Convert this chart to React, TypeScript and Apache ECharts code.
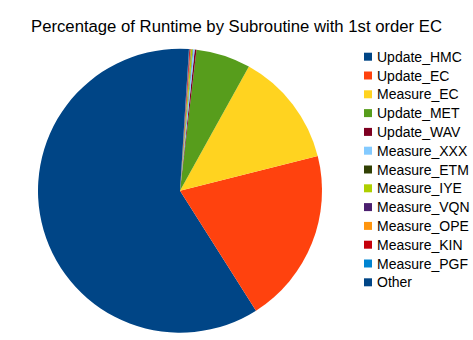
import React, { useEffect, useRef } from "react";
import * as echarts from "echarts";

const categories = [
  "Update_HMC",
  "Update_EC",
  "Measure_EC",
  "Update_MET",
  "Update_WAV",
  "Measure_XXX",
  "Measure_ETM",
  "Measure_IYE",
  "Measure_VQN",
  "Measure_OPE",
  "Measure_KIN",
  "Measure_PGF",
  "Other",
];
const values = [58.9, 19.9, 13.0, 6.2, 0.2, 0.2, 0.05, 0.15, 0.05, 0.05, 0.1, 0.05, 1.0];
const colors = [
  "#004586",
  "#ff420e",
  "#ffd320",
  "#579d1c",
  "#7e0021",
  "#83caff",
  "#314004",
  "#aecf00",
  "#4b1f6f",
  "#ff950e",
  "#c5000b",
  "#0084d1",
  "#004586",
];
const title = "Percentage of Runtime by Subroutine with 1st order EC";

export default function App() {
  const ref = useRef<HTMLDivElement>(null);
  useEffect(() => {
    document.body.style.margin = "0";
    if (!ref.current) return;
    const chart = echarts.init(ref.current, undefined, { renderer: "svg" });
    chart.setOption({
      animation: false,
      backgroundColor: "#ffffff",
      color: colors,
      title: {
        text: title,
        left: "center",
        top: 13,
        textStyle: {
          fontFamily: "Liberation Sans",
          fontSize: 16.7,
          fontWeight: "normal",
          color: "#000000",
        },
      },
      legend: {
        orient: "vertical",
        left: 359,
        top: 44.7,
        icon: "rect",
        itemWidth: 8,
        itemHeight: 8,
        itemGap: 4.8,
        data: categories,
        textStyle: {
          fontFamily: "Liberation Sans",
          fontSize: 14,
          lineHeight: 14,
          color: "#000000",
        },
      },
      series: [
        {
          type: "pie",
          center: [180, 190.7],
          radius: 142,
          startAngle: 90,
          clockwise: false,
          label: { show: false },
          labelLine: { show: false },
          emphasis: { disabled: true },
          itemStyle: { borderWidth: 0 },
          data: categories.map((name, i) => ({ name, value: values[i] })),
        },
      ],
    });
    return () => chart.dispose();
  }, []);
  return <div ref={ref} style={{ width: 473, height: 340 }} />;
}
